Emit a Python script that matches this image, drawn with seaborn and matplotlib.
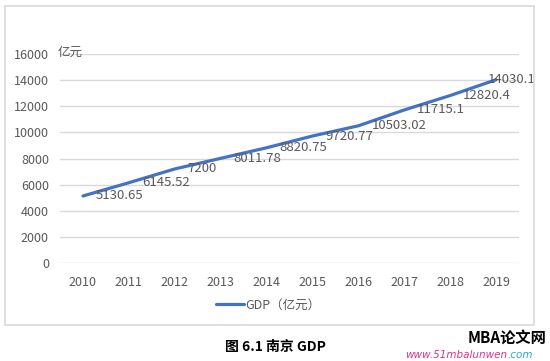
import pandas as pd
import matplotlib
matplotlib.use("Agg")
import matplotlib.pyplot as plt
import seaborn as sns
from matplotlib.patches import Rectangle

# data
years = ["2010", "2011", "2012", "2013", "2014", "2015", "2016", "2017", "2018", "2019"]
gdp = [5130.65, 6145.52, 7200, 8011.78, 8820.75, 9720.77, 10503.02, 11715.1, 12820.4, 14030.1]
gdp_labels = ["5130.65", "6145.52", "7200", "8011.78", "8820.75", "9720.77",
              "10503.02", "11715.1", "12820.4", "14030.1"]
yticks = [0, 2000, 4000, 6000, 8000, 10000, 12000, 14000, 16000]
series_name = "GDP（亿元）"

df = pd.DataFrame({"year": years, "gdp": gdp})
df["x"] = range(len(years))

sns.set_style("white")
plt.rcParams["font.family"] = ["Noto Sans CJK SC", "DejaVu Sans"]

gray = "#595959"
grid = "#D9D9D9"
blue = "#4472C4"

fig = plt.figure(figsize=(5.5, 3.61), dpi=100)
fig.patch.set_facecolor("white")

# outer chart frame
fig.patches.append(Rectangle((5 / 550, 1 - 325 / 361), 529 / 550, 319 / 361,
                             transform=fig.transFigure, fill=False,
                             edgecolor=grid, linewidth=1.2))

ax = fig.add_axes([60 / 550, 1 - 263 / 361, 459 / 550, 209 / 361])
sns.lineplot(data=df, x="x", y="gdp", ax=ax, color=blue, linewidth=2.3,
             label=series_name, legend=False)

ax.set_xlim(-0.5, len(years) - 0.5)
ax.set_ylim(0, 16000)
ax.set_xticks(range(len(years)))
ax.set_xticklabels(years)
ax.set_yticks(yticks)
ax.set_yticklabels([str(v) for v in yticks])
ax.tick_params(axis="both", length=0, labelsize=9, labelcolor=gray)
ax.tick_params(axis="x", pad=9)
ax.tick_params(axis="y", pad=8)
ax.set_xlabel("")
ax.set_ylabel("")
for s in ax.spines.values():
    s.set_visible(False)
ax.grid(axis="y", color=grid, linewidth=1)
ax.set_axisbelow(True)
ax.set_facecolor("none")

# data labels (to the right of each point)
for i, (v, lab) in enumerate(zip(gdp, gdp_labels)):
    dx = 13 if i < len(gdp) - 1 else -8
    ax.annotate(lab, (i, v), xytext=(dx, 0), textcoords="offset pixels",
                ha="left", va="center", fontsize=9.5, color=gray)

# unit label
fig.text(58 / 550, 1 - 52 / 361, "亿元", fontsize=9, color=gray, ha="left", va="center")

# legend
handles, labels = ax.get_legend_handles_labels()
fig.legend(handles, labels, loc="center", bbox_to_anchor=(268 / 550, 1 - 305 / 361),
           frameon=False, fontsize=9, labelcolor=gray, handlelength=2.2,
           handletextpad=0.1)

# caption
fig.text(275 / 550, 1 - 347 / 361, "图 6.1 南京 GDP", fontsize=10, color="black",
         ha="center", va="center", fontweight="bold")

# watermark
fig.text(507 / 550, 1 - 338 / 361, "MBA论文网", fontsize=11, color="black",
         ha="center", va="center", fontweight="bold", style="italic")
fig.text(507 / 550, 1 - 355 / 361, "www.51mbalunwen", fontsize=7.5, color="#D6358C",
         ha="right", va="center", style="italic", family="DejaVu Sans")
fig.text(507 / 550, 1 - 355 / 361, ".com", fontsize=7.5, color="#2BA6C9",
         ha="left", va="center", style="italic", family="DejaVu Sans")

fig.savefig("out.png", dpi=100)
